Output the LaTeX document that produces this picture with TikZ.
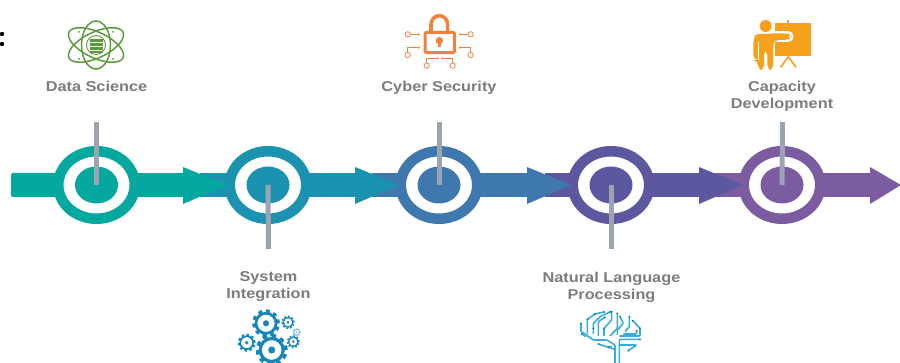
\documentclass[tikz,border=0pt]{standalone}
\usepackage{fontspec}
\setmainfont{Liberation Sans}
\usetikzlibrary{shapes.geometric}
\definecolor{cA}{HTML}{05A89E}
\definecolor{cB}{HTML}{1B93B0}
\definecolor{cC}{HTML}{3F78AE}
\definecolor{cD}{HTML}{5B58A0}
\definecolor{cE}{HTML}{7B5CA0}
\definecolor{leadgray}{HTML}{9CA3B2}
\definecolor{labelgray}{HTML}{7C7C7C}
\definecolor{atomgreen}{HTML}{5C9A3C}
\definecolor{lockorange}{HTML}{EF8240}
\definecolor{boardorange}{HTML}{F5A11C}
\definecolor{gearblue}{HTML}{1786B8}
\definecolor{brainblue}{HTML}{35AEDC}
\definecolor{braindark}{HTML}{1F7297}
\tikzset{
  ringnode/.style={ellipse,draw=#1,fill=white,line width=10.5pt,minimum width=76.5pt,minimum height=67.5pt,inner sep=0pt},
  corenode/.style={ellipse,fill=#1,minimum width=43pt,minimum height=37pt,inner sep=0pt},
  leader/.style={leadgray,line width=5pt},
  steplabel/.style={font=\fontsize{14.3}{17}\selectfont\bfseries,text=labelgray,align=center,xscale=1.14,transform shape,inner sep=0pt},
  iconzoom/.style={x=0.33333pt,y=-0.33333pt},
  circuit/.style={lockorange,line width=0.8pt,fill=none},
  trace/.style={brainblue,line width=1.6pt,rounded corners=1pt},
}
\newcommand{\segment}[3]{% x start, x base of head, colour
  \fill[#3] (#1,173) rectangle (#2,197);
  \fill[#3] (#2,167) -- (#2+44,185) -- (#2,204) -- cycle;
}
\newcommand{\gearicon}[4]{% x,y,outer radius,colour
  \draw[#4,line width=#3*0.22pt,dash pattern=on #3*0.28pt off #3*0.28pt] (#1,#2) circle[radius=#3*0.89pt];
  \draw[#4,line width=#3*0.20pt,fill=white] (#1,#2) circle[radius=#3*0.72pt];
  \fill[#4] (#1,#2) circle[radius=#3*0.22pt];
}
\begin{document}
\begin{tikzpicture}[x=1pt,y=-1pt]
\useasboundingbox (0,0) rectangle (900,363);
\clip (0,0) rectangle (900,363);
\fill[black] (2,34) circle[radius=2.2];
\fill[black] (2,44) circle[radius=2.2];
% final arrow
\fill[cE] (715,173) rectangle (870,197);
\fill[cE] (870,167) -- (901,185) -- (870,204) -- cycle;
\node[ringnode=cE] (r5) at (782,185) {};
\node[corenode=cE] (c5) at (782,185) {};
\segment{545}{699}{cD}
\node[ringnode=cD] (r4) at (611,185) {};
\node[corenode=cD] (c4) at (611,185) {};
\segment{372}{527}{cC}
\node[ringnode=cC] (r3) at (439,185) {};
\node[corenode=cC] (c3) at (439,185) {};
\segment{200}{355}{cB}
\node[ringnode=cB] (r2) at (268,185) {};
\node[corenode=cB] (c2) at (268,185) {};
\fill[cA,rounded corners=2pt] (11,173) rectangle (120,197);
\fill[cA] (100,173) rectangle (183,197);
\fill[cA] (183,167) -- (227,185) -- (183,204) -- cycle;
\node[ringnode=cA] (r1) at (96.5,185) {};
\node[corenode=cA] (c1) at (96.5,185) {};
% leaders
\coordinate (t1) at (96.5,122);
\coordinate (t2) at (268.5,249);
\coordinate (t3) at (439,122);
\coordinate (t4) at (611,249);
\coordinate (t5) at (782.5,122);
\draw[leader] (t1) -- (c1.center);
\draw[leader] (t2) -- (c2.center);
\draw[leader] (t3) -- (c3.center);
\draw[leader] (t4) -- (c4.center);
\draw[leader] (t5) -- (c5.center);
% labels
\node[steplabel] (l1) at (96.5,86) {Data Science};
\node[steplabel] (l3) at (439,87.5) {Cyber Security};
\node[steplabel] (l5) at (782,96) {Capacity\\Development};
\node[steplabel] (l2) at (268.5,287) {System\\Integration};
\node[steplabel] (l4) at (611.5,287) {Natural Language\\Processing};
% atom icon
\begin{scope}[shift={(96,45)},atomgreen,line width=1.5pt]
  \draw (0,0) ellipse[x radius=14.5,y radius=24];
  \begin{scope}[xscale=1.14]
    \draw[rotate=30] (0,0) ellipse[x radius=27,y radius=12.5];
    \draw[rotate=-30] (0,0) ellipse[x radius=27,y radius=12.5];
  \end{scope}
  \fill (-17,-13) circle[radius=1];
  \fill (17,-13) circle[radius=1];
  \fill (-17,14) circle[radius=1];
  \fill (17,14) circle[radius=1];
  \draw[fill=white,line width=0.9pt] (0,0) circle[radius=9.5];
  \fill (-6.5,-6) rectangle (6.5,-2.8);
  \fill (-6.5,-1.8) rectangle (6.5,1);
  \fill (-6.5,2) rectangle (6.5,4.8);
  \fill (-6.5,5.8) rectangle (6.5,8.5);
\end{scope}
% lock icon
\begin{scope}[shift={(370,0)},iconzoom]
  \draw[lockorange,line width=3.6pt] (183,95) -- (183,74) arc[start angle=180,end angle=360,x radius=25,y radius=27] -- (233,95);
  \draw[lockorange,line width=3pt,rounded corners=2pt] (165,97) rectangle (254,158);
  \fill[lockorange] (208,122) circle[radius=11];
  \fill[lockorange] (203,125) rectangle (213,142);
  \draw[circuit] (113,103) circle[radius=8];
  \draw[circuit,-] (121,103) -- (148,103);
  \fill[lockorange] (146,103) circle[radius=3.5];
  \draw[circuit] (302,103) circle[radius=8];
  \draw[circuit] (294,103) -- (268,103);
  \fill[lockorange] (270,103) circle[radius=3.5];
  \draw[circuit] (113,165) circle[radius=8];
  \draw[circuit] (113,157) -- (113,143) -- (148,143);
  \fill[lockorange] (146,143) circle[radius=3.5];
  \draw[circuit] (302,165) circle[radius=8];
  \draw[circuit] (302,157) -- (302,143) -- (268,143);
  \fill[lockorange] (270,143) circle[radius=3.5];
  \draw[circuit] (170,197) circle[radius=8];
  \draw[circuit] (170,189) -- (170,175) -- (205,175);
  \fill[lockorange] (203,175) circle[radius=3.5];
  \draw[circuit] (248,197) circle[radius=8];
  \draw[circuit] (248,189) -- (248,175) -- (215,175);
  \fill[lockorange] (217,175) circle[radius=3.5];
\end{scope}
% presenter icon
\begin{scope}[shift={(720,0)},iconzoom]
  \fill[boardorange] (165,68) rectangle (272,168);
  \fill[boardorange] (202,60) rectangle (208,68);
  \draw[boardorange,line width=1.6pt] (205,170) -- (182,202);
  \draw[boardorange,line width=1.6pt] (205,170) -- (228,202);
  \draw[white,line width=10.5pt,line cap=round] (150,110) -- (205,110);
  \fill[boardorange] (137,78) circle[radius=18];
  \fill[boardorange,rounded corners=5pt] (100,180) -- (100,115) -- (112,98) -- (137,104) -- (155,100) -- (205,100) -- (215,110) -- (205,120) -- (160,120) -- (160,210) -- (142,210) -- (142,150) -- (132,150) -- (132,210) -- (114,210) -- (114,180) -- cycle;
  \draw[white,line width=0.9pt] (114,125) -- (114,180);
\end{scope}
% gears icon
\gearicon{266}{323.3}{14}{gearblue}
\gearicon{288}{322.3}{6.7}{gearblue}
\gearicon{246.7}{342.7}{9}{gearblue}
\gearicon{271.7}{350}{16}{gearblue}
\gearicon{293.3}{341.7}{6.5}{gearblue}
\gearicon{296.7}{332.3}{4}{gearblue!60}
% brain icon
\begin{scope}[shift={(530,260)},iconzoom]
  \draw[trace] (255,310) -- (255,255) -- (230,240) -- (190,240) -- (165,222) -- (153,215) -- (153,190);
  \draw[trace] (268,310) -- (268,238) -- (330,238);
  \draw[trace] (268,255) -- (320,255) -- (295,272);
  \draw[trace] (255,268) -- (205,252);
  \draw[trace] (245,258) -- (235,262);
  \draw[trace] (168,230) -- (155,222);
  \draw[trace] (172,222) -- (172,178) -- (195,162) -- (222,156);
  \draw[trace] (190,222) -- (190,190) -- (210,170) -- (240,156);
  \draw[trace] (205,228) -- (205,185) -- (225,172);
  \draw[trace] (222,228) -- (222,205) -- (245,180) -- (245,155);
  \draw[trace] (240,228) -- (262,205) -- (262,160);
  \draw[trace] (262,225) -- (262,210) -- (280,190) -- (270,170);
  \draw[trace] (268,228) -- (330,228) -- (330,205) -- (308,182);
  \draw[trace] (285,215) -- (298,200) -- (298,170);
  \draw[trace] (280,222) -- (320,222) -- (320,212);
  \foreach \p in {(153,190),(155,222),(172,178),(195,162),(222,156),(240,156),(245,155),(262,160),(270,170),(298,170),(308,182),(330,205),(330,238),(295,272),(205,252),(235,262),(320,212),(225,172),(190,205),(222,205)}
    \fill[braindark] \p circle[radius=3.2];
\end{scope}
\end{tikzpicture}
\end{document}
